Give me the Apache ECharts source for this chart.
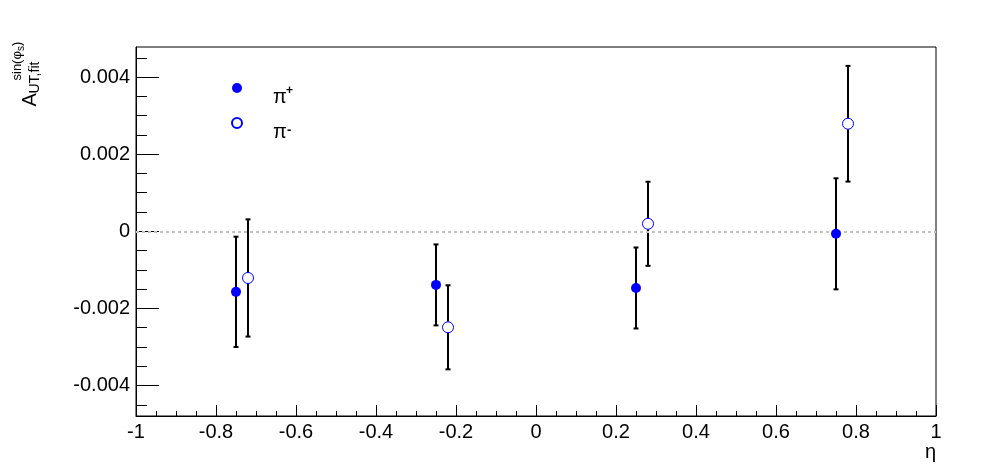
<!DOCTYPE html>
<html>
<head>
<meta charset="utf-8">
<script src="https://cdn.jsdelivr.net/npm/echarts@6/dist/echarts.min.js"></script>
<style>
html,body{margin:0;padding:0;background:#fff;}
#main{width:996px;height:472px;}
</style>
</head>
<body>
<div id="main"></div>
<script>
// ---- data ----
const etaPlus  = [-0.75, -0.25, 0.25, 0.75];
const valPlus  = [-0.00157, -0.00139, -0.00147, -0.000065];
const errPlus  = [0.00143, 0.00105, 0.00105, 0.00144];

const etaMinus = [-0.72, -0.22, 0.28, 0.78];
const valMinus = [-0.00121, -0.00249, 0.000195, 0.00279];
const errMinus = [0.00152, 0.00109, 0.00109, 0.00150];

const yMajorTicks = [-0.004, -0.002, 0, 0.002, 0.004];
const yMinorTicks = [-0.0045,-0.004,-0.0035,-0.003,-0.0025,-0.002,-0.0015,-0.001,-0.0005,0,
                     0.0005,0.001,0.0015,0.002,0.0025,0.003,0.0035,0.004,0.0045];
const Y_MIN = -0.00479, Y_MAX = 0.00478;

const FONT = '"Liberation Sans", Arial, sans-serif';

function zip(xs, ys, es) { return xs.map((x, i) => es ? [x, ys[i], es[i]] : [x, ys[i]]); }

function errRender(gap) {
  return function (params, api) {
    const x = api.value(0), y = api.value(1), e = api.value(2);
    const c = api.coord([x, y]);
    const t = api.coord([x, y + e]);
    const b = api.coord([x, y - e]);
    const st = { stroke: '#000', lineWidth: 2 };
    return {
      type: 'group',
      children: [
        { type: 'line', shape: { x1: c[0], y1: t[1], x2: c[0], y2: c[1] - gap }, style: st },
        { type: 'line', shape: { x1: c[0], y1: c[1] + gap, x2: c[0], y2: b[1] }, style: st },
        { type: 'line', shape: { x1: c[0] - 2.5, y1: t[1], x2: c[0] + 2.5, y2: t[1] }, style: st },
        { type: 'line', shape: { x1: c[0] - 2.5, y1: b[1], x2: c[0] + 2.5, y2: b[1] }, style: st }
      ]
    };
  };
}

const chart = echarts.init(document.getElementById('main'), null, { renderer: 'canvas' });

const option = {
  backgroundColor: '#fff',
  animation: false,
  grid: { left: 136, right: 60, top: 47, bottom: 56, show: true, borderColor: '#000', borderWidth: 1, backgroundColor: 'transparent' },
  xAxis: {
    type: 'value', min: -1, max: 1, interval: 0.2,
    axisLine: { show: true, onZero: false, lineStyle: { color: '#000', width: 1 } },
    axisTick: { show: true, inside: true, length: 11, lineStyle: { color: '#000', width: 1 } },
    minorTick: { show: true, splitNumber: 4, length: 5, lineStyle: { color: '#000', width: 1 } },
    splitLine: { show: false },
    axisLabel: {
      color: '#000', fontSize: 20, fontFamily: FONT, margin: 6,
      formatter: v => String(Math.round(v * 10) / 10)
    }
  },
  yAxis: [
    {
      type: 'value', min: Y_MIN, max: Y_MAX, position: 'left',
      axisLine: { show: true, onZero: false, lineStyle: { color: '#000', width: 1 } },
      axisTick: { show: true, inside: true, length: 23, customValues: yMajorTicks, lineStyle: { color: '#000', width: 1 } },
      splitLine: { show: false },
      axisLabel: {
        color: '#000', fontSize: 20, fontFamily: FONT, margin: 6, customValues: yMajorTicks,
        formatter: v => (Math.abs(v) < 1e-9 ? '0' : v.toFixed(3))
      }
    },
    {
      type: 'value', min: Y_MIN, max: Y_MAX, position: 'left', offset: 0,
      axisLine: { show: false, onZero: false },
      axisTick: { show: true, inside: true, length: 11, customValues: yMinorTicks, lineStyle: { color: '#000', width: 1 } },
      splitLine: { show: false },
      axisLabel: { show: false, customValues: yMinorTicks }
    }
  ],
  legend: {
    orient: 'vertical', left: 226, top: 78, itemGap: 24,
    itemWidth: 10, itemHeight: 10, icon: 'circle',
    formatter: () => '',
    textStyle: { fontSize: 10 },
    data: ['pip', 'pim']
  },
  series: [
    {
      type: 'line', data: [], silent: true,
      markLine: {
        silent: true, symbol: 'none', label: { show: false },
        lineStyle: { color: '#c4c4c4', type: [3, 3], width: 2 },
        data: [{ yAxis: 0 }]
      }
    },
    { type: 'custom', name: 'errPlus', renderItem: errRender(0), data: zip(etaPlus, valPlus, errPlus), z: 3 },
    { type: 'custom', name: 'errMinus', renderItem: errRender(5.5), data: zip(etaMinus, valMinus, errMinus), z: 3 },
    {
      type: 'scatter', name: 'pip', data: zip(etaPlus, valPlus), symbol: 'circle', symbolSize: 10, z: 5,
      itemStyle: { color: '#0000ff', opacity: 1 }
    },
    {
      type: 'scatter', name: 'pim', data: zip(etaMinus, valMinus), symbol: 'circle', symbolSize: 11, z: 5,
      itemStyle: { color: '#ffffff', borderColor: '#0000ff', borderWidth: 1, opacity: 1 }
    }
  ],
  graphic: [
    // legend labels
    { type: 'text', x: 273, y: 97, style: { text: 'π', font: '20px ' + FONT, fill: '#000', textAlign: 'left', textVerticalAlign: 'middle' } },
    { type: 'text', x: 286, y: 91, style: { text: '+', font: 'bold 12px ' + FONT, fill: '#000', textAlign: 'left', textVerticalAlign: 'middle' } },
    { type: 'text', x: 273, y: 132, style: { text: 'π', font: '20px ' + FONT, fill: '#000', textAlign: 'left', textVerticalAlign: 'middle' } },
    { type: 'text', x: 287, y: 130, style: { text: '-', font: 'bold 13px ' + FONT, fill: '#000', textAlign: 'left', textVerticalAlign: 'middle' } },
    // x axis title
    { type: 'text', x: 936, y: 452, style: { text: 'η', font: '20px ' + FONT, fill: '#000', textAlign: 'right', textVerticalAlign: 'middle' } },
    // y axis title (rotated)
    { type: 'text', x: 30, y: 106.5, rotation: Math.PI / 2, style: { text: 'A', font: '20px ' + FONT, fill: '#000', textAlign: 'left', textVerticalAlign: 'middle' } },
    { type: 'text', x: 35, y: 93.5, rotation: Math.PI / 2, style: { text: 'UT,fit', font: '14px ' + FONT, fill: '#000', textAlign: 'left', textVerticalAlign: 'middle' } },
    { type: 'text', x: 17.5, y: 80.5, rotation: Math.PI / 2, style: { text: 'sin(φ', font: '13px ' + FONT, fill: '#000', textAlign: 'left', textVerticalAlign: 'middle' } },
    { type: 'text', x: 21.5, y: 51, rotation: Math.PI / 2, style: { text: 's', font: '10px ' + FONT, fill: '#000', textAlign: 'left', textVerticalAlign: 'middle' } },
    { type: 'text', x: 17.5, y: 46, rotation: Math.PI / 2, style: { text: ')', font: '13px ' + FONT, fill: '#000', textAlign: 'left', textVerticalAlign: 'middle' } }
  ]
};

chart.setOption(option);
</script>
</body>
</html>
